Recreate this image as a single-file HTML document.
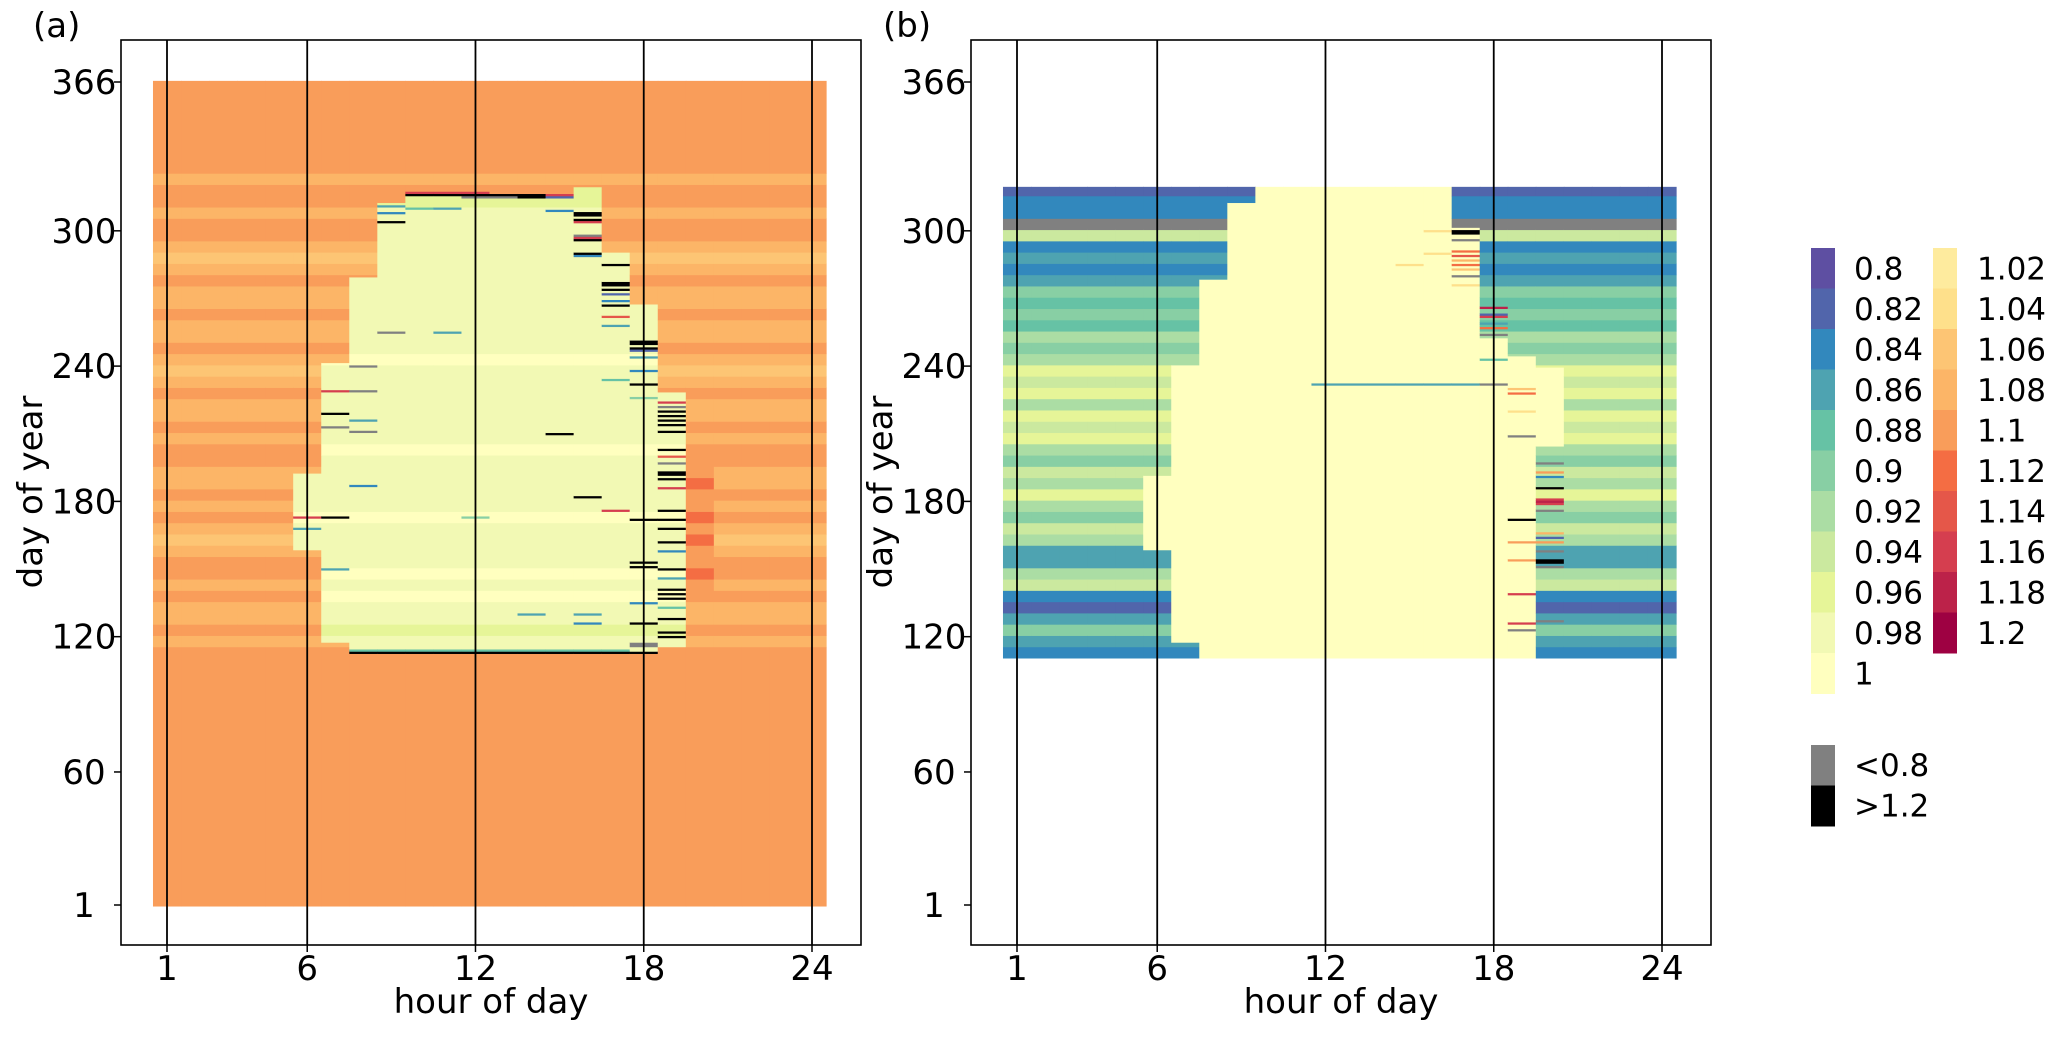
<!DOCTYPE html>
<html><head><meta charset="utf-8">
<style>
html,body{margin:0;padding:0;background:#fff;}
svg text{font-family:"DejaVu Sans","Liberation Sans",sans-serif;fill:#000;}
</style></head>
<body>
<svg id="fig" width="2067" height="1037" viewBox="0 0 2067 1037" xmlns="http://www.w3.org/2000/svg">
<g id="panelA"></g>
<g id="panelB"></g>
<g id="legend"></g>
</svg>
<script>
// ---------- data ----------
const levels = [0.8,0.82,0.84,0.86,0.88,0.9,0.92,0.94,0.96,0.98,1,1.02,1.04,1.06,1.08,1.1,1.12,1.14,1.16,1.18,1.2];
const levelColors = ["#5e4fa2","#5165ab","#3288bd","#4ea3b1","#66c2a5","#88cfa4","#abdda4","#cbe99f","#e6f598","#f2f9b4","#ffffbf","#feeb9e","#fee08b","#fdc574","#fcb567","#f99d5a","#f46d43","#e55749","#d53e4f","#bc2249","#9e0142"];
const xTicks = [1,6,12,18,24];
const yTicks = [1,60,120,180,240,300,366];
const hours = [1,2,3,4,5,6,7,8,9,10,11,12,13,14,15,16,17,18,19,20,21,22,23,24];

// Panel (a): background per 5-day bin (bin i = days 5i+1..5i+5)
const aBgProfile = [1.1,1.1,1.1,1.1,1.1,1.1,1.1,1.1,1.1,1.1,1.1,1.1,1.1,1.1,1.1,1.1,1.1,1.1,1.1,1.1,1.1,1.1,1.1,
 1.08,1.1,1.08,1.08,1.1,1.08,1.1,1.1,1.08,1.06,1.08,1.1,1.08,1.1,1.08,1.08,1.1,1.1,1.08,1.1,1.08,1.08,1.1,1.08,1.06,1.08,1.1,1.08,1.08,1.1,1.08,1.08,1.1,1.08,1.06,1.08,1.1,1.1,1.08,1.1,1.1,1.08,1.1,
 1.1,1.1,1.1,1.1,1.1,1.1,1.1,1.1];
const aInnerStart = [0,0,0,0,0,159,118,113,113,113,113,113,113,113,113,113,113,113,116,0,0,0,0,0];
const aInnerEnd   = [0,0,0,0,0,192,241,279,312,316,316,316,316,316,316,319,290,267,228,0,0,0,0,0];
// inner profile per 5-day bin starting at day 111
const aInnerProfile = [0.98,0.98,0.96,0.98,0.98,1,0.98,1,0.98,0.98,0.98,0.98,1,0.98,0.98,0.98,0.98,0.98,1,0.98,0.98,0.98,0.98,0.98,0.98,0.98,1,0.98,0.98,0.98,0.98,0.98,0.98,0.98,0.98,0.98,0.98,0.98,0.98,0.98,0.96,0.96];
const aH20Start = 141;
const aH20Profile = [1.1,1.12,1.1,1.1,1.12,1.1,1.12,1.1,1.1,1.12,1.1,1.1,1.1];
// [hour, day, value]  (value 9 = >1.2 black, 0 = <0.8 grey)
const aStripes = [
 [8,113,9],[9,113,9],[10,113,9],[11,113,9],[12,113,9],[13,113,9],[14,113,9],[15,113,9],[16,113,9],[17,113,9],[18,113,9],
 [8,114,0.88],[9,114,0.88],[10,114,0.88],[11,114,0.88],[12,114,0.88],[13,114,0.88],[14,114,0.88],[15,114,0.88],[16,114,0.88],[17,114,0.88],
 [10,316,9],[11,316,9],[12,316,9],[13,316,9],[14,316,9],[15,316,1.16],[10,317,1.16],[11,317,1.16],[12,317,1.16],
 [12,315,0],[13,315,0],[14,315,9],[15,315,0.82],
 [9,311,0.86],[9,308,0.84],[9,304,9],[10,310,0.88],[11,310,0.86],[15,309,0.84],
 [16,308,9],[16,307,9],[16,305,9],[16,304,1.16],[16,298,0],[16,297,1.16],[16,296,9],[16,290,9],[16,289,0.84],
 [17,285,9],[17,277,9],[17,276,9],[17,274,9],[17,272,0.82],[17,269,0.84],[17,267,9],[17,262,1.14],[17,258,0.86],[17,234,0.88],
 [18,251,9],[18,250,9],[18,248,9],[18,247,0.82],[18,244,0.86],[18,238,0.84],[18,232,9],[18,226,0.9],[18,172,9],[18,153,9],[18,151,9],[18,135,0.84],[18,126,9],[18,117,0],[18,116,0],
 [19,224,1.16],[19,222,0],[19,220,9],[19,218,9],[19,216,9],[19,214,9],[19,211,9],[19,203,9],[19,200,1.14],[19,197,0],[19,193,9],[19,192,9],[19,190,9],[19,186,1.16],[19,176,9],[19,172,9],[19,168,9],[19,162,9],[19,158,0.84],[19,150,9],[19,146,0.86],[19,141,9],[19,139,9],[19,137,9],[19,133,0.88],[19,128,9],[19,122,9],[19,120,9],
 [7,229,1.16],[7,219,9],[7,213,0],[7,173,9],[7,150,0.86],[6,173,1.16],[6,168,0.86],
 [8,240,0],[8,229,0],[8,216,0.86],[8,211,0],[8,187,0.84],[9,255,0],[11,255,0.86],[15,210,9],[16,182,9],[16,126,0.84],[16,130,0.86],[14,130,0.86],[12,173,0.9],[17,176,1.16]
];

// Panel (b)
const bDayMin = 111, bDayMax = 319;
const bBandStart = [111,118,159,192,241,279,313];
const bBandEnd   = [117,158,191,240,278,312,319];
const bLeftLastBlue = [7,6,5,6,7,8,9];
// right-side blue ranges: [hour, fromDay, toDay]
const bRightRanges = [[17,302,319],[18,253,319],[19,245,319],[20,111,204],[20,240,319],[21,111,319],[22,111,319],[23,111,319],[24,111,319]];
// blue-region stripe profile per 5-day bin starting at day 111
const bProfile = [0.84,0.86,0.9,0.86,0.82,0.84,0.94,0.92,0.86,0.86,0.92,0.94,0.9,0.92,0.96,0.92,0.94,0.9,0.92,0.96,0.94,0.96,0.92,0.96,0.94,0.96,0.92,0.9,0.92,0.88,0.9,0.88,0.9,0.86,0.84,0.86,0.84,0.94,0,0.84,0.84,0.82];
const bStripes = [
 [17,299,9],[17,300,9],[17,296,0],[17,291,1.12],[17,289,1.14],[17,287,1.08],[17,285,1.12],[17,283,1.06],[17,280,0],[17,276,1.04],
 [18,266,1.18],[18,263,0.82],[18,262,1.16],[18,259,0.86],[18,257,1.12],[18,254,0],[18,243,0.88],[18,232,0],
 [19,230,1.06],[19,228,1.12],[19,209,0],[19,172,9],[19,162,1.1],[19,154,1.1],[19,139,1.16],[19,126,1.16],[19,123,0],[19,220,1.04],
 [20,197,0],[20,193,1.1],[20,191,0.84],[20,186,9],[20,181,1.16],[20,180,1.18],[20,179,1.16],[20,176,0],[20,166,1.08],[20,164,0.82],[20,162,1.1],[20,158,0],[20,154,9],[20,153,9],[20,151,0],[20,127,0],
 [12,232,0.86],[13,232,0.86],[14,232,0.86],[15,232,0.86],[16,232,0.86],[17,232,0.86],[16,300,1.04],[16,290,1.04],[15,285,1.04]
];

const legendCol1 = ["0.8","0.82","0.84","0.86","0.88","0.9","0.92","0.94","0.96","0.98","1"];
const legendCol2 = ["1.02","1.04","1.06","1.08","1.1","1.12","1.14","1.16","1.18","1.2"];
const legendExtra = ["<0.8",">1.2"];

// ---------- helpers ----------
const NS = "http://www.w3.org/2000/svg";
function mk(tag, attrs, parent){const e=document.createElementNS(NS,tag);for(const k in attrs)e.setAttribute(k,attrs[k]);parent.appendChild(e);return e;}
function colorOf(v){ if(v===null) return null; if(v<0.79) return "#808080"; if(v>1.21) return "#000000";
  let i=Math.round((v-0.8)/0.02); i=Math.max(0,Math.min(20,i)); return levelColors[i]; }
const FT=40, FB=945;
const Y0=82, DY=(905-82)/365;
function yS(d){return Y0+(366-d)*DY;}
const X0=167, DX=(812-167)/23;
function xS(h,off){return off+X0+(h-1)*DX;}
const FS=34;

function key(h,d){return h+"_"+d;}
const aMap={}; aStripes.forEach(s=>aMap[key(s[0],s[1])]=s[2]);
const bMap={}; bStripes.forEach(s=>bMap[key(s[0],s[1])]=s[2]);

function aValue(h,d){
  const k=key(h,d); if(k in aMap) return aMap[k];
  const s=aInnerStart[h-1], e=aInnerEnd[h-1];
  if(s && d>=s && d<=e) return aInnerProfile[Math.floor((d-111)/5)];
  if(h===20 && d>=aH20Start && d<aH20Start+aH20Profile.length*5) return aH20Profile[Math.floor((d-aH20Start)/5)];
  return aBgProfile[Math.floor((d-1)/5)];
}
function bValue(h,d){
  if(d<bDayMin||d>bDayMax) return null;
  const k=key(h,d); if(k in bMap) return bMap[k];
  let blue=false;
  for(let i=0;i<bBandStart.length;i++){ if(d>=bBandStart[i]&&d<=bBandEnd[i]&&h<=bLeftLastBlue[i]) blue=true; }
  bRightRanges.forEach(r=>{ if(h===r[0]&&d>=r[1]&&d<=r[2]) blue=true; });
  if(blue) return bProfile[Math.floor((d-111)/5)];
  return 1;
}

function drawPanel(g, off, valueFn, label, name){
  const cells=mk("g",{},g);
  
  
  hours.forEach(h=>{
    let runStart=1, runCol=colorOf(valueFn(h,1));
    for(let d=2; d<=367; d++){
      const c = d<=366 ? colorOf(valueFn(h,d)) : "__end";
      if(c!==runCol){
        if(runCol){
          const r=mk("rect",{x:xS(h,off)-DX/2,y:yS(d-1+0.5),width:DX+0.6,height:(d-runStart)*DY+0.4,fill:runCol},cells);
          
          
        }
        runStart=d; runCol=c;
      }
    }
  });
  xTicks.forEach(t=>{
    const l=mk("line",{x1:xS(t,off),x2:xS(t,off),y1:FT,y2:FB,stroke:"#000","stroke-width":1.8},g);
    
    
  });
  const fr=mk("rect",{x:off+121,y:FT,width:740,height:FB-FT,fill:"none",stroke:"#000","stroke-width":1.6},g);
  
  
  xTicks.forEach(t=>{
    mk("line",{x1:xS(t,off),x2:xS(t,off),y1:FB,y2:FB+7,stroke:"#000","stroke-width":1.5},g);
    const tx=mk("text",{x:xS(t,off),y:980,"font-size":FS,"text-anchor":"middle"},g);
    tx.textContent=t;
    
    
  });
  yTicks.forEach(t=>{
    mk("line",{x1:off+114,x2:off+121,y1:yS(t),y2:yS(t),stroke:"#000","stroke-width":1.5},g);
    const tx=mk("text",{x:off+84,y:yS(t)+12,"font-size":FS,"text-anchor":"middle"},g);
    tx.textContent=t;
    
    
  });
  const xl=mk("text",{x:off+491,y:1013,"font-size":FS,"text-anchor":"middle"},g);
  xl.textContent="hour of day";
  
  
  const yl=mk("text",{x:0,y:0,"font-size":FS,"text-anchor":"middle",transform:"translate("+(off+42)+",492) rotate(-90)"},g);
  yl.textContent="day of year";
  
  
  const pl=mk("text",{x:off+33,y:37,"font-size":FS},g);
  pl.textContent=label;
  
  
}
drawPanel(document.getElementById("panelA"),0,aValue,"(a)","panel-a");
drawPanel(document.getElementById("panelB"),850,bValue,"(b)","panel-b");

// legend
const lg=document.getElementById("legend");
const SH=40.5, LT=248, LFS=31;
legendCol1.forEach((t,i)=>{
  const v=parseFloat(t);
  const r=mk("rect",{x:1811,y:LT+i*SH,width:24,height:SH+0.5,fill:colorOf(v)},lg);
  
  
  const tx=mk("text",{x:1854,y:LT+i*SH+SH/2+11,"font-size":LFS},lg);
  tx.textContent=t;
  
  
});
legendCol2.forEach((t,i)=>{
  const v=parseFloat(t);
  const r=mk("rect",{x:1933,y:LT+i*SH,width:24,height:SH+0.5,fill:colorOf(v)},lg);
  
  
  const tx=mk("text",{x:1977,y:LT+i*SH+SH/2+11,"font-size":LFS},lg);
  tx.textContent=t;
  
  
});
legendExtra.forEach((t,i)=>{
  const r=mk("rect",{x:1811,y:745+i*40.5,width:24,height:41,fill:i===0?"#808080":"#000000"},lg);
  
  
  const tx=mk("text",{x:1854,y:745+i*40.5+31,"font-size":LFS},lg);
  tx.textContent=t;
  
  
});
</script>
</body></html>
